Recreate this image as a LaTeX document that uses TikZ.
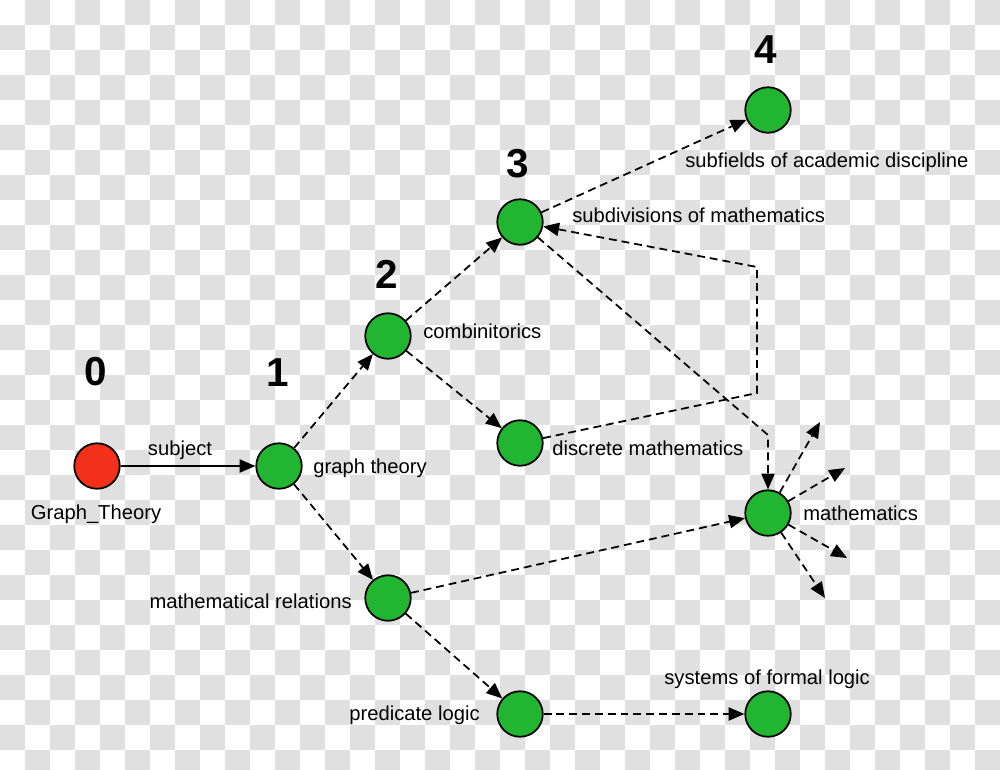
\documentclass[tikz,border=0pt]{standalone}
\usepackage{fontspec}
\setmainfont{Liberation Sans}
\usetikzlibrary{arrows.meta}
\definecolor{leaf}{HTML}{22B531}
\definecolor{root}{HTML}{F4301A}
\definecolor{board}{HTML}{E0E0E0}
\tikzset{ent/.style={circle,draw=black,fill=leaf,line width=1pt,minimum size=.91cm,inner sep=0pt},
  src/.style={ent,fill=root},
  lbl/.style={inner sep=0pt,font=\fontsize{11.5}{13}\selectfont},
  lvl/.style={inner sep=0pt,anchor=base,font=\fontsize{23}{26}\selectfont\bfseries},
  rel/.style={line width=1pt,dash pattern=on 4.5pt off 2.8pt,-{Triangle[length=9pt,width=7.5pt]}},
  link/.style={rel,solid}}
\begin{document}
\begin{tikzpicture}[x=.02cm,y=-.02cm]
\useasboundingbox (0,0) rectangle (1000,769);
% checkered backdrop
\fill[white] (0,0) rectangle (1000,769);
\begin{scope}
\clip (0,0) rectangle (1000,769);
\foreach \i in {0,...,39}{\foreach \j in {0,...,30}{
  \pgfmathparse{int(mod(\i+\j,2))}
  \ifnum\pgfmathresult=1 \fill[board] (\i*25,\j*25) rectangle ++(25,25);\fi}}
\end{scope}
% entities
\node[src] (gt) at (97,466) {};
\node[ent] (gth) at (279,466) {};
\node[ent] (comb) at (388,336) {};
\node[ent] (disc) at (520,443) {};
\node[ent] (subdiv) at (520,222) {};
\node[ent] (subf) at (768,110) {};
\node[ent] (math) at (768,513) {};
\node[ent] (mrel) at (388,598) {};
\node[ent] (pred) at (520,714) {};
\node[ent] (sfl) at (768,714) {};
% names
\node[lbl,anchor=base] (gtl) at (96,519) {Graph\_Theory};
\node[lbl,anchor=base] (subjl) at (180,455) {subject};
\node[lbl,anchor=base west] (gthl) at (313,473) {graph theory};
\node[lbl,anchor=base west] (combl) at (423,338) {combinitorics};
\node[lbl,anchor=base west] (discl) at (552,455) {discrete mathematics};
\node[lbl,anchor=base west] (subdivl) at (572,222) {subdivisions of mathematics};
\node[lbl,anchor=base west] (subfl) at (685,167) {subfields of academic discipline};
\node[lbl,anchor=base west] (mathl) at (803,520) {mathematics};
\node[lbl,anchor=base east] (mrell) at (352,608) {mathematical relations};
\node[lbl,anchor=base east] (predl) at (480,720) {predicate logic};
\node[lbl,anchor=base west] (sfll) at (664,684) {systems of formal logic};
% depth levels
\node[lvl] (l0) at (96,385) {0};
\node[lvl] (l1) at (278,386) {1};
\node[lvl] (l2) at (387,288) {2};
\node[lvl] (l3) at (518,177) {3};
\node[lvl] (l4) at (766,63) {4};
% links
\coordinate (bend1) at (768,435);
\coordinate (bend2) at (757,393);
\coordinate (bend3) at (757,267);
\coordinate (out1) at (820,422);
\coordinate (out2) at (845,468);
\coordinate (out3) at (847,558);
\coordinate (out4) at (825,598);
\draw[link] (gt) -- (gth);
\draw[rel] (gth) -- (comb);
\draw[rel] (gth) -- (mrel);
\draw[rel] (comb) -- (subdiv);
\draw[rel] (comb) -- (disc);
\draw[rel] (subdiv) -- (subf);
\draw[rel] (subdiv) -- (bend1) -- (math);
\draw[rel] (disc) -- (bend2) -- (bend3) -- (subdiv);
\draw[rel] (mrel) -- (math);
\draw[rel] (mrel) -- (pred);
\draw[rel] (pred) -- (sfl);
\foreach \o in {out1,out2,out3,out4}
  \draw[rel] (math) -- (\o);
\end{tikzpicture}
\end{document}
